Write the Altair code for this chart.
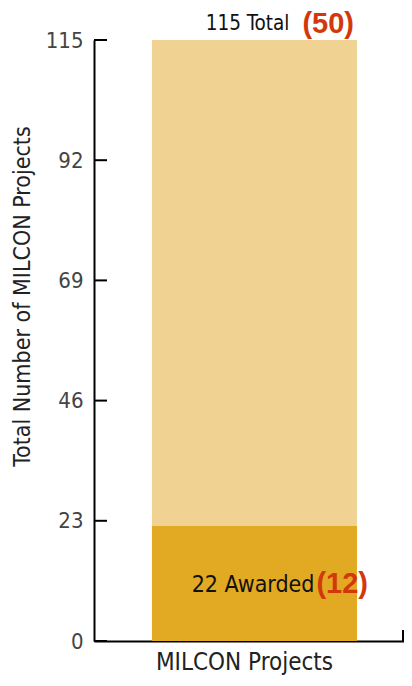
import altair as alt
import pandas as pd

# Data
category = ["MILCON Projects"]
total_projects = [115]
awarded_projects = [22]
total_prior = ["(50)"]
awarded_prior = ["(12)"]
y_ticks = [0, 23, 46, 69, 92, 115]

FONT = "Liberation Sans Narrow, DejaVu Sans Condensed, Roboto Condensed, sans-serif"
BOLD_FONT = "Liberation Sans, Arial, sans-serif"
LIGHT = "#F0D292"
DARK = "#E2A922"
RED = "#D2380C"

df = pd.DataFrame({
    "cat": category,
    "total": total_projects,
    "awarded": awarded_projects,
    "total_label": [f"{t} Total" for t in total_projects],
    "awarded_label": [f"{a} Awarded" for a in awarded_projects],
    "total_prior": total_prior,
    "awarded_prior": awarded_prior,
})
ticks_df = pd.DataFrame({"v": y_ticks})

xscale = alt.Scale(paddingInner=0, paddingOuter=0.2561, align=0.552)
yscale = alt.Scale(domain=[0, 115], nice=False)

x_enc = alt.X(
    "cat:N",
    scale=xscale,
    axis=alt.Axis(
        title="MILCON Projects",
        labels=False,
        ticks=False,
        domainColor="#000",
        domainWidth=2,
        titleFont=FONT,
        titleFontSize=24,
        titleFontWeight="normal",
        titleColor="#222",
        titleX=150,
        titleY=28,
        titleBaseline="alphabetic",
        titleAlign="center",
    ),
)
y_enc = alt.Y(
    "total:Q",
    scale=yscale,
    axis=alt.Axis(
        values=y_ticks,
        title="Total Number of MILCON Projects",
        ticks=False,
        domainColor="#000",
        domainWidth=2,
        labelFont=FONT,
        labelFontSize=22,
        labelColor="#444",
        labelPadding=11,
        grid=False,
        titleFont=FONT,
        titleFontSize=23,
        titleFontWeight="normal",
        titleColor="#222",
        titleAngle=-90,
        titleX=-72,
        titleY=256,
        titleAlign="center",
        titleBaseline="middle",
    ),
)

base = alt.Chart(df)

total_bar = base.mark_bar(color=LIGHT).encode(x=x_enc, y=y_enc)
awarded_bar = base.mark_bar(color=DARK).encode(
    x=alt.X("cat:N", scale=xscale), y=alt.Y("awarded:Q", scale=yscale)
)

total_text = base.mark_text(
    align="right", baseline="alphabetic", dx=35, dy=-10,
    font=FONT, fontSize=20.5, color="#111"
).encode(x=alt.X("cat:N", scale=xscale), y=alt.Y("total:Q", scale=yscale), text="total_label:N")
total_prior_text = base.mark_text(
    align="left", baseline="alphabetic", dx=48, dy=-7,
    font=BOLD_FONT, fontSize=29, fontWeight="bold", color=RED
).encode(x=alt.X("cat:N", scale=xscale), y=alt.Y("total:Q", scale=yscale), text="total_prior:N")

awarded_text = base.mark_text(
    align="right", baseline="alphabetic", dx=60, dy=66,
    font=FONT, fontSize=23, color="#111"
).encode(x=alt.X("cat:N", scale=xscale), y=alt.Y("awarded:Q", scale=yscale), text="awarded_label:N")
awarded_prior_text = base.mark_text(
    align="left", baseline="alphabetic", dx=62, dy=67,
    font=BOLD_FONT, fontSize=29, fontWeight="bold", color=RED
).encode(x=alt.X("cat:N", scale=xscale), y=alt.Y("awarded:Q", scale=yscale), text="awarded_prior:N")

# inward y ticks
tick_rules = alt.Chart(ticks_df).mark_rule(color="#000", strokeWidth=2).encode(
    y=alt.Y("v:Q", scale=yscale), x=alt.value(0), x2=alt.value(13)
)
# small end tick on x axis
end_tick = alt.Chart(ticks_df.head(1)).mark_rule(color="#000", strokeWidth=2).encode(
    x=alt.value(309), y=alt.value(590), y2=alt.value(601)
)

chart = alt.layer(
    total_bar, awarded_bar, tick_rules, end_tick,
    total_text, total_prior_text, awarded_text, awarded_prior_text
).properties(
    width=310,
    height=601,
    autosize=alt.AutoSizeParams(type="none"),
    padding={"left": 86, "top": 32, "right": 0, "bottom": 36},
).configure(background="white", view=alt.ViewConfig(strokeWidth=0))

chart.save("out.html", embed_options={"renderer": "svg", "actions": False})
